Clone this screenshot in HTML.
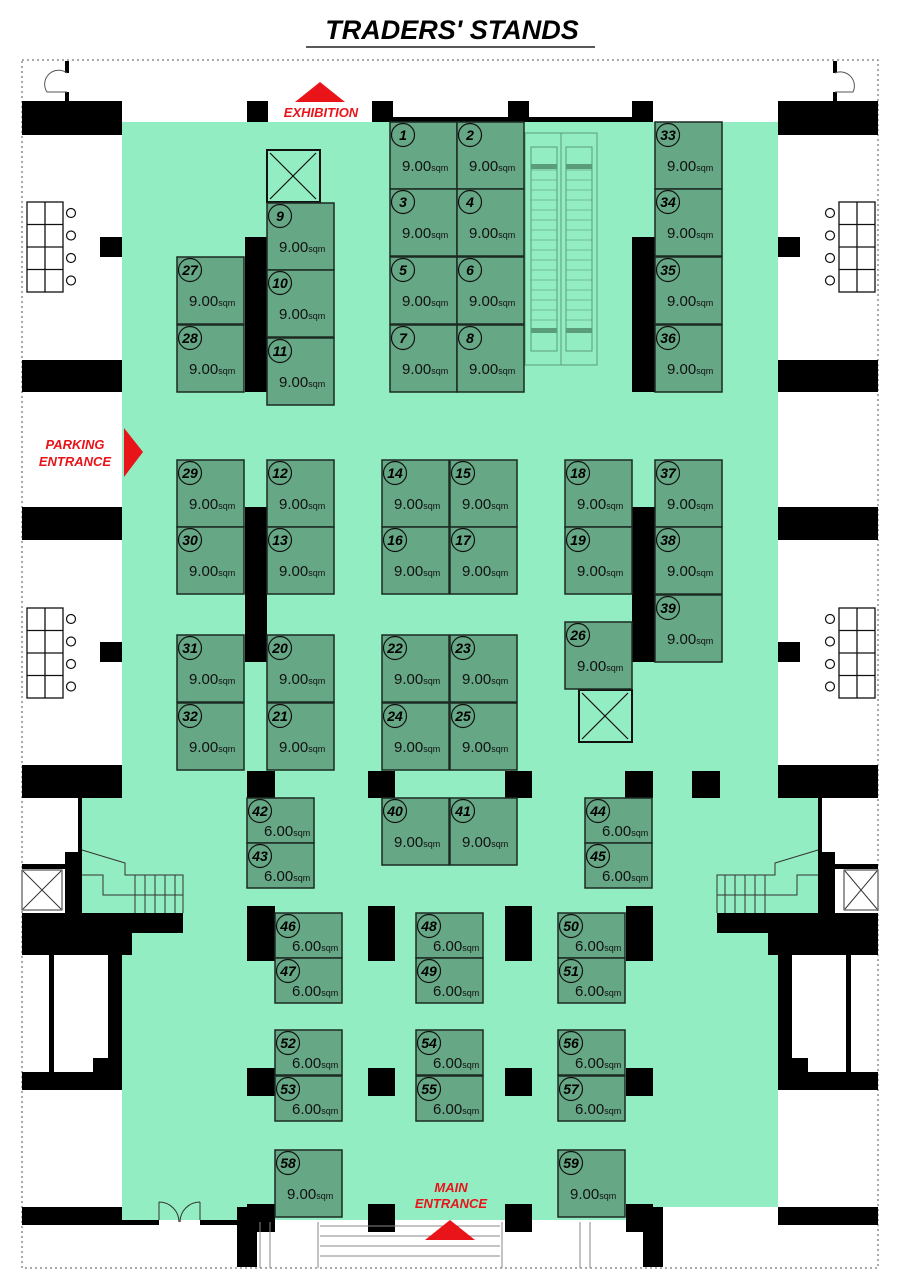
<!DOCTYPE html>
<html><head><meta charset="utf-8"><style>
html,body{margin:0;padding:0;background:#fff}
svg{display:block}
.n{font:italic bold 14px "Liberation Sans",sans-serif;fill:#000;text-anchor:middle}
.a{font:15px "Liberation Sans",sans-serif;fill:#111}
.a tspan{font-size:9px}
.r{font:italic bold 13px "Liberation Sans",sans-serif;fill:#e8141a;text-anchor:middle}
</style></head><body>
<svg width="900" height="1273" viewBox="0 0 900 1273" xmlns="http://www.w3.org/2000/svg">
<defs>
<g id="t9"><rect width="67" height="67" fill="#66a786" stroke="#1c2a22" stroke-width="1.5"/><circle cx="13" cy="13" r="11.5" fill="none" stroke="#111" stroke-width="1.2"/></g>
<g id="t6"><rect width="67" height="45" fill="#66a786" stroke="#1c2a22" stroke-width="1.5"/><circle cx="13" cy="13" r="11.5" fill="none" stroke="#111" stroke-width="1.2"/></g>
<g id="tbl"><rect x="0" y="0" width="36" height="90" fill="#fff" stroke="#111" stroke-width="1.3"/><line x1="18" y1="0" x2="18" y2="90" stroke="#111" stroke-width="1.3"/><line x1="0" y1="22.5" x2="36" y2="22.5" stroke="#111" stroke-width="1.3"/><line x1="0" y1="45" x2="36" y2="45" stroke="#111" stroke-width="1.3"/><line x1="0" y1="67.5" x2="36" y2="67.5" stroke="#111" stroke-width="1.3"/></g>
<g id="circ"><circle cx="0" cy="0" r="4.5" fill="#fff" stroke="#111" stroke-width="1.2"/><circle cx="0" cy="22.5" r="4.5" fill="#fff" stroke="#111" stroke-width="1.2"/><circle cx="0" cy="45" r="4.5" fill="#fff" stroke="#111" stroke-width="1.2"/><circle cx="0" cy="67.5" r="4.5" fill="#fff" stroke="#111" stroke-width="1.2"/></g>
</defs>
<text x="452" y="39" style="font:italic bold 27px 'Liberation Sans',sans-serif" text-anchor="middle">TRADERS' STANDS</text>
<line x1="306" y1="47" x2="595" y2="47" stroke="#222" stroke-width="1.5"/>
<rect x="22" y="60" width="856" height="1208" fill="none" stroke="#555" stroke-width="1" stroke-dasharray="2,3"/>
<path d="M122 122H778V798H818V915H778V1207H662V1220H122V915H82V798H122Z" fill="#93edc2"/>
<rect x="247" y="101" width="21" height="21"/><rect x="372" y="101" width="21" height="21"/>
<rect x="390" y="117" width="262" height="5"/><rect x="508" y="101" width="21" height="21"/><rect x="632" y="101" width="21" height="21"/>
<rect x="22" y="101" width="100" height="34"/><rect x="22" y="360" width="100" height="32"/><rect x="22" y="507" width="100" height="33"/><rect x="22" y="765" width="100" height="33"/>
<rect x="778" y="101" width="100" height="34"/><rect x="778" y="360" width="100" height="32"/><rect x="778" y="507" width="100" height="33"/><rect x="778" y="765" width="100" height="33"/>
<rect x="100" y="237" width="22" height="20"/><rect x="100" y="642" width="22" height="20"/>
<rect x="778" y="237" width="22" height="20"/><rect x="778" y="642" width="22" height="20"/>
<rect x="65" y="61" width="4" height="12"/><rect x="65" y="92" width="4" height="10"/><path d="M67 73 A 14 14 0 0 0 47 92 H67" fill="none" stroke="#555"/>
<rect x="833" y="61" width="4" height="12"/><rect x="833" y="92" width="4" height="10"/><path d="M835 73 A 14 14 0 0 1 853 92 H835" fill="none" stroke="#555"/>
<use href="#tbl" x="27" y="202"/><use href="#circ" x="71" y="213"/>
<use href="#tbl" x="27" y="608"/><use href="#circ" x="71" y="619"/>
<use href="#tbl" x="839" y="202"/><use href="#circ" x="830" y="213"/>
<use href="#tbl" x="839" y="608"/><use href="#circ" x="830" y="619"/>
<rect x="245" y="237" width="22" height="155"/><rect x="632" y="237" width="23" height="155"/>
<rect x="245" y="507" width="22" height="155"/><rect x="632" y="507" width="23" height="155"/>
<g>
<rect x="247" y="771" width="28" height="27"/><rect x="368" y="771" width="27" height="27"/><rect x="505" y="771" width="27" height="27"/><rect x="625" y="771" width="28" height="27"/><rect x="692" y="771" width="28" height="27"/>
<rect x="247" y="906" width="28" height="55"/><rect x="368" y="906" width="27" height="55"/><rect x="505" y="906" width="27" height="55"/><rect x="626" y="906" width="27" height="55"/>
<rect x="247" y="1068" width="28" height="28"/><rect x="368" y="1068" width="27" height="28"/><rect x="505" y="1068" width="27" height="28"/><rect x="626" y="1068" width="27" height="28"/>
<rect x="247" y="1204" width="28" height="28"/><rect x="368" y="1204" width="27" height="28"/><rect x="505" y="1204" width="27" height="28"/><rect x="626" y="1204" width="27" height="28"/>
<rect x="237" y="1207" width="20" height="60"/><rect x="643" y="1207" width="20" height="60"/>
</g>
<g fill="none" stroke="#111" stroke-width="1.2">
<rect x="267" y="150" width="53" height="52" stroke-width="2"/><line x1="270" y1="153" x2="316" y2="199"/><line x1="316" y1="153" x2="270" y2="199"/>
<rect x="579" y="690" width="53" height="52" stroke-width="2"/><line x1="582" y1="693" x2="628" y2="739"/><line x1="628" y1="693" x2="582" y2="739"/>
</g>
<g fill="none" stroke="#5a9d7b" stroke-width="1">
<rect x="525" y="133" width="72" height="232"/><line x1="561" y1="133" x2="561" y2="365"/>
<rect x="531" y="147" width="26" height="204"/><rect x="566" y="147" width="26" height="204"/>
</g>
<g stroke="#5a9d7b" stroke-width="1" opacity=".6">
<path d="M531 170H557M531 180H557M531 190H557M531 200H557M531 210H557M531 220H557M531 230H557M531 240H557M531 250H557M531 260H557M531 270H557M531 280H557M531 290H557M531 300H557M531 310H557M531 320H557M531 330H557"/>
<path d="M566 170H592M566 180H592M566 190H592M566 200H592M566 210H592M566 220H592M566 230H592M566 240H592M566 250H592M566 260H592M566 270H592M566 280H592M566 290H592M566 300H592M566 310H592M566 320H592M566 330H592"/>
</g>
<rect x="531" y="164" width="26" height="5" fill="#5a9d7b"/><rect x="566" y="164" width="26" height="5" fill="#5a9d7b"/>
<rect x="531" y="328" width="26" height="5" fill="#5a9d7b"/><rect x="566" y="328" width="26" height="5" fill="#5a9d7b"/>
<rect x="78" y="798" width="4" height="117"/>
<rect x="65" y="852" width="17" height="63"/><rect x="22" y="864" width="60" height="5"/>
<rect x="22" y="913" width="161" height="20"/><rect x="22" y="933" width="110" height="22"/>
<rect x="22" y="870" width="40" height="40" fill="#fff" stroke="#333"/><path d="M23 871L61 909M61 871L23 909" stroke="#333"/>
<path d="M82 850L125 863V875H183V913M82 875H103V895H183M135 875V913M145 875V913M155 875V913M165 875V913M175 875V913" fill="none" stroke="#333" stroke-width="1"/>
<rect x="108" y="955" width="14" height="120"/><rect x="49" y="955" width="5" height="120"/><rect x="93" y="1058" width="20" height="15"/>
<rect x="22" y="1072" width="100" height="18"/>
<rect x="22" y="1207" width="100" height="18"/><rect x="122" y="1220" width="37" height="5"/><rect x="200" y="1220" width="37" height="5"/>
<path d="M159 1202V1220M200 1202V1220M159 1202A20 20 0 0 1 179 1222M200 1202A20 20 0 0 0 180 1222" fill="none" stroke="#333"/>
<rect x="818" y="798" width="4" height="117"/>
<rect x="818" y="852" width="17" height="63"/><rect x="818" y="864" width="60" height="5"/>
<rect x="717" y="913" width="161" height="20"/><rect x="768" y="933" width="110" height="22"/>
<rect x="844" y="870" width="34" height="40" fill="#fff" stroke="#333"/><path d="M845 871L877 909M877 871L845 909" stroke="#333"/>
<path d="M818 850L775 863V875H717V913M818 875H797V895H717M765 875V913M755 875V913M745 875V913M735 875V913M725 875V913" fill="none" stroke="#333" stroke-width="1"/>
<rect x="778" y="955" width="14" height="120"/><rect x="846" y="955" width="5" height="120"/><rect x="788" y="1058" width="20" height="15"/>
<rect x="778" y="1072" width="100" height="18"/>
<rect x="778" y="1207" width="100" height="18"/>
<g stroke="#888" stroke-width="1"><path d="M320 1226H500M320 1236H500M320 1246H500M320 1256H500M260 1222V1268M270 1222V1268M580 1222V1268M590 1222V1268M318 1222V1268M502 1222V1268"/></g>
<polygon points="295,102 320,82 345,102" fill="#e8141a"/>
<text class="r" x="321" y="117">EXHIBITION</text>
<text class="r" x="75" y="449">PARKING</text><text class="r" x="75" y="466">ENTRANCE</text>
<polygon points="124,428 143,452 124,477" fill="#e8141a"/>
<text class="r" x="451" y="1192">MAIN</text><text class="r" x="451" y="1208">ENTRANCE</text>
<polygon points="425,1240 450,1220 475,1240" fill="#e8141a"/>
<g>
<g transform="translate(390,122)"><use href="#t9"/><text class="n" x="13" y="18">1</text><text class="a" x="12" y="49">9.00<tspan>sqm</tspan></text></g>
<g transform="translate(457,122)"><use href="#t9"/><text class="n" x="13" y="18">2</text><text class="a" x="12" y="49">9.00<tspan>sqm</tspan></text></g>
<g transform="translate(390,189)"><use href="#t9"/><text class="n" x="13" y="18">3</text><text class="a" x="12" y="49">9.00<tspan>sqm</tspan></text></g>
<g transform="translate(457,189)"><use href="#t9"/><text class="n" x="13" y="18">4</text><text class="a" x="12" y="49">9.00<tspan>sqm</tspan></text></g>
<g transform="translate(390,257)"><use href="#t9"/><text class="n" x="13" y="18">5</text><text class="a" x="12" y="49">9.00<tspan>sqm</tspan></text></g>
<g transform="translate(457,257)"><use href="#t9"/><text class="n" x="13" y="18">6</text><text class="a" x="12" y="49">9.00<tspan>sqm</tspan></text></g>
<g transform="translate(390,325)"><use href="#t9"/><text class="n" x="13" y="18">7</text><text class="a" x="12" y="49">9.00<tspan>sqm</tspan></text></g>
<g transform="translate(457,325)"><use href="#t9"/><text class="n" x="13" y="18">8</text><text class="a" x="12" y="49">9.00<tspan>sqm</tspan></text></g>
<g transform="translate(267,203)"><use href="#t9"/><text class="n" x="13" y="18">9</text><text class="a" x="12" y="49">9.00<tspan>sqm</tspan></text></g>
<g transform="translate(267,270)"><use href="#t9"/><text class="n" x="13" y="18">10</text><text class="a" x="12" y="49">9.00<tspan>sqm</tspan></text></g>
<g transform="translate(267,338)"><use href="#t9"/><text class="n" x="13" y="18">11</text><text class="a" x="12" y="49">9.00<tspan>sqm</tspan></text></g>
<g transform="translate(177,257)"><use href="#t9"/><text class="n" x="13" y="18">27</text><text class="a" x="12" y="49">9.00<tspan>sqm</tspan></text></g>
<g transform="translate(177,325)"><use href="#t9"/><text class="n" x="13" y="18">28</text><text class="a" x="12" y="49">9.00<tspan>sqm</tspan></text></g>
<g transform="translate(655,122)"><use href="#t9"/><text class="n" x="13" y="18">33</text><text class="a" x="12" y="49">9.00<tspan>sqm</tspan></text></g>
<g transform="translate(655,189)"><use href="#t9"/><text class="n" x="13" y="18">34</text><text class="a" x="12" y="49">9.00<tspan>sqm</tspan></text></g>
<g transform="translate(655,257)"><use href="#t9"/><text class="n" x="13" y="18">35</text><text class="a" x="12" y="49">9.00<tspan>sqm</tspan></text></g>
<g transform="translate(655,325)"><use href="#t9"/><text class="n" x="13" y="18">36</text><text class="a" x="12" y="49">9.00<tspan>sqm</tspan></text></g>
<g transform="translate(177,460)"><use href="#t9"/><text class="n" x="13" y="18">29</text><text class="a" x="12" y="49">9.00<tspan>sqm</tspan></text></g>
<g transform="translate(177,527)"><use href="#t9"/><text class="n" x="13" y="18">30</text><text class="a" x="12" y="49">9.00<tspan>sqm</tspan></text></g>
<g transform="translate(267,460)"><use href="#t9"/><text class="n" x="13" y="18">12</text><text class="a" x="12" y="49">9.00<tspan>sqm</tspan></text></g>
<g transform="translate(267,527)"><use href="#t9"/><text class="n" x="13" y="18">13</text><text class="a" x="12" y="49">9.00<tspan>sqm</tspan></text></g>
<g transform="translate(382,460)"><use href="#t9"/><text class="n" x="13" y="18">14</text><text class="a" x="12" y="49">9.00<tspan>sqm</tspan></text></g>
<g transform="translate(450,460)"><use href="#t9"/><text class="n" x="13" y="18">15</text><text class="a" x="12" y="49">9.00<tspan>sqm</tspan></text></g>
<g transform="translate(382,527)"><use href="#t9"/><text class="n" x="13" y="18">16</text><text class="a" x="12" y="49">9.00<tspan>sqm</tspan></text></g>
<g transform="translate(450,527)"><use href="#t9"/><text class="n" x="13" y="18">17</text><text class="a" x="12" y="49">9.00<tspan>sqm</tspan></text></g>
<g transform="translate(565,460)"><use href="#t9"/><text class="n" x="13" y="18">18</text><text class="a" x="12" y="49">9.00<tspan>sqm</tspan></text></g>
<g transform="translate(565,527)"><use href="#t9"/><text class="n" x="13" y="18">19</text><text class="a" x="12" y="49">9.00<tspan>sqm</tspan></text></g>
<g transform="translate(655,460)"><use href="#t9"/><text class="n" x="13" y="18">37</text><text class="a" x="12" y="49">9.00<tspan>sqm</tspan></text></g>
<g transform="translate(655,527)"><use href="#t9"/><text class="n" x="13" y="18">38</text><text class="a" x="12" y="49">9.00<tspan>sqm</tspan></text></g>
<g transform="translate(655,595)"><use href="#t9"/><text class="n" x="13" y="18">39</text><text class="a" x="12" y="49">9.00<tspan>sqm</tspan></text></g>
<g transform="translate(565,622)"><use href="#t9"/><text class="n" x="13" y="18">26</text><text class="a" x="12" y="49">9.00<tspan>sqm</tspan></text></g>
<g transform="translate(177,635)"><use href="#t9"/><text class="n" x="13" y="18">31</text><text class="a" x="12" y="49">9.00<tspan>sqm</tspan></text></g>
<g transform="translate(177,703)"><use href="#t9"/><text class="n" x="13" y="18">32</text><text class="a" x="12" y="49">9.00<tspan>sqm</tspan></text></g>
<g transform="translate(267,635)"><use href="#t9"/><text class="n" x="13" y="18">20</text><text class="a" x="12" y="49">9.00<tspan>sqm</tspan></text></g>
<g transform="translate(267,703)"><use href="#t9"/><text class="n" x="13" y="18">21</text><text class="a" x="12" y="49">9.00<tspan>sqm</tspan></text></g>
<g transform="translate(382,635)"><use href="#t9"/><text class="n" x="13" y="18">22</text><text class="a" x="12" y="49">9.00<tspan>sqm</tspan></text></g>
<g transform="translate(450,635)"><use href="#t9"/><text class="n" x="13" y="18">23</text><text class="a" x="12" y="49">9.00<tspan>sqm</tspan></text></g>
<g transform="translate(382,703)"><use href="#t9"/><text class="n" x="13" y="18">24</text><text class="a" x="12" y="49">9.00<tspan>sqm</tspan></text></g>
<g transform="translate(450,703)"><use href="#t9"/><text class="n" x="13" y="18">25</text><text class="a" x="12" y="49">9.00<tspan>sqm</tspan></text></g>
<g transform="translate(382,798)"><use href="#t9"/><text class="n" x="13" y="18">40</text><text class="a" x="12" y="49">9.00<tspan>sqm</tspan></text></g>
<g transform="translate(450,798)"><use href="#t9"/><text class="n" x="13" y="18">41</text><text class="a" x="12" y="49">9.00<tspan>sqm</tspan></text></g>
<g transform="translate(275,1150)"><use href="#t9"/><text class="n" x="13" y="18">58</text><text class="a" x="12" y="49">9.00<tspan>sqm</tspan></text></g>
<g transform="translate(558,1150)"><use href="#t9"/><text class="n" x="13" y="18">59</text><text class="a" x="12" y="49">9.00<tspan>sqm</tspan></text></g>
<g transform="translate(247,798)"><use href="#t6"/><text class="n" x="13" y="18">42</text><text class="a" x="17" y="38">6.00<tspan>sqm</tspan></text></g>
<g transform="translate(247,843)"><use href="#t6"/><text class="n" x="13" y="18">43</text><text class="a" x="17" y="38">6.00<tspan>sqm</tspan></text></g>
<g transform="translate(585,798)"><use href="#t6"/><text class="n" x="13" y="18">44</text><text class="a" x="17" y="38">6.00<tspan>sqm</tspan></text></g>
<g transform="translate(585,843)"><use href="#t6"/><text class="n" x="13" y="18">45</text><text class="a" x="17" y="38">6.00<tspan>sqm</tspan></text></g>
<g transform="translate(275,913)"><use href="#t6"/><text class="n" x="13" y="18">46</text><text class="a" x="17" y="38">6.00<tspan>sqm</tspan></text></g>
<g transform="translate(275,958)"><use href="#t6"/><text class="n" x="13" y="18">47</text><text class="a" x="17" y="38">6.00<tspan>sqm</tspan></text></g>
<g transform="translate(416,913)"><use href="#t6"/><text class="n" x="13" y="18">48</text><text class="a" x="17" y="38">6.00<tspan>sqm</tspan></text></g>
<g transform="translate(416,958)"><use href="#t6"/><text class="n" x="13" y="18">49</text><text class="a" x="17" y="38">6.00<tspan>sqm</tspan></text></g>
<g transform="translate(558,913)"><use href="#t6"/><text class="n" x="13" y="18">50</text><text class="a" x="17" y="38">6.00<tspan>sqm</tspan></text></g>
<g transform="translate(558,958)"><use href="#t6"/><text class="n" x="13" y="18">51</text><text class="a" x="17" y="38">6.00<tspan>sqm</tspan></text></g>
<g transform="translate(275,1030)"><use href="#t6"/><text class="n" x="13" y="18">52</text><text class="a" x="17" y="38">6.00<tspan>sqm</tspan></text></g>
<g transform="translate(275,1076)"><use href="#t6"/><text class="n" x="13" y="18">53</text><text class="a" x="17" y="38">6.00<tspan>sqm</tspan></text></g>
<g transform="translate(416,1030)"><use href="#t6"/><text class="n" x="13" y="18">54</text><text class="a" x="17" y="38">6.00<tspan>sqm</tspan></text></g>
<g transform="translate(416,1076)"><use href="#t6"/><text class="n" x="13" y="18">55</text><text class="a" x="17" y="38">6.00<tspan>sqm</tspan></text></g>
<g transform="translate(558,1030)"><use href="#t6"/><text class="n" x="13" y="18">56</text><text class="a" x="17" y="38">6.00<tspan>sqm</tspan></text></g>
<g transform="translate(558,1076)"><use href="#t6"/><text class="n" x="13" y="18">57</text><text class="a" x="17" y="38">6.00<tspan>sqm</tspan></text></g>
</g>
</svg>
</body></html>
